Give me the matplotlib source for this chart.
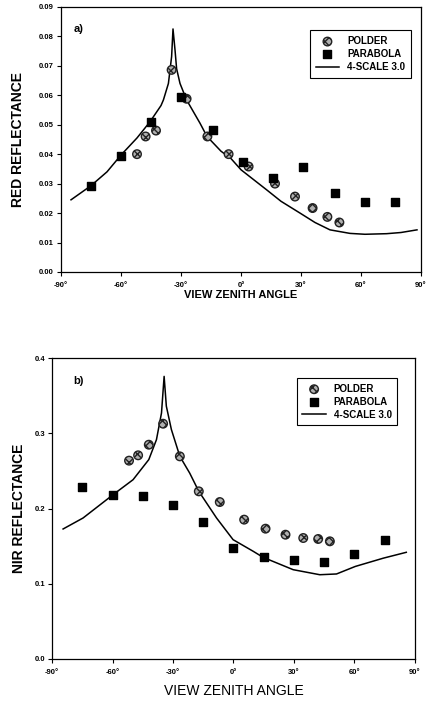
import matplotlib.pyplot as plt
import numpy as np

plt.rcParams['font.family'] = ['Liberation Sans', 'DejaVu Sans']

# a) red reflectance
red_polder_x = [-52, -47.7, -42.5, -34.7, -27.2, -16.8, -6.2, 3.8, 17, 27, 35.8, 43.2, 49.2]
red_polder_y = [0.040, 0.046, 0.048, 0.0686, 0.0588, 0.046, 0.040, 0.0358, 0.030, 0.0256, 0.0217, 0.0187, 0.0168]
red_para_x = [-75, -60, -45, -30, -14, 1, 16, 31, 47, 62, 77]
red_para_y = [0.0293, 0.0395, 0.051, 0.0593, 0.0482, 0.0372, 0.032, 0.0358, 0.0269, 0.0238, 0.0237]
red_model_x = [-85, -75, -67, -60, -52, -45.5, -40, -38.8, -36.3, -34.7, -34, -33, -32.2, -30.5,
               -27.2, -20.5, -17, -10, -5, 0, 12.8, 20, 29.5, 37, 44.5, 54.5, 62, 72.8, 80, 88]
red_model_y = [0.0245, 0.0293, 0.034, 0.0397, 0.0455, 0.051, 0.0565, 0.0584, 0.064, 0.0731, 0.0825,
               0.0754, 0.069, 0.064, 0.0584, 0.0505, 0.046, 0.041, 0.0385, 0.0347, 0.0279, 0.0240,
               0.020, 0.0168, 0.0143, 0.0131, 0.0128, 0.0130, 0.0134, 0.0143]

# b) NIR reflectance
nir_polder_x = [-51.8, -47.3, -42, -34.9, -26.6, -17.2, -6.8, 5.3, 15.9, 25.8, 34.6, 42, 47.8]
nir_polder_y = [0.2636, 0.2707, 0.2848, 0.3127, 0.2693, 0.2228, 0.2086, 0.1852, 0.1732, 0.1652, 0.1608, 0.1595, 0.1564]
nir_para_x = [-75, -60, -45, -30, -15, 0, 15, 30, 45, 60, 75]
nir_para_y = [0.2286, 0.2184, 0.2162, 0.2042, 0.1821, 0.1475, 0.1351, 0.132, 0.1285, 0.140, 0.1586]
nir_model_x = [-84.5, -74.6, -59.7, -49.8, -42, -38.2, -35.7, -34.4, -33.3, -30.8, -26.6, -21.7,
               -17.2, -8.4, -0.2, 9.8, 14.7, 29.6, 42.8, 51.1, 60.4, 74.3, 85.7]
nir_model_y = [0.1728, 0.1874, 0.2184, 0.2383, 0.265, 0.2915, 0.327, 0.3756, 0.336, 0.305, 0.2693,
               0.247, 0.2228, 0.1874, 0.1586, 0.1431, 0.1351, 0.1187, 0.112, 0.113, 0.123, 0.134, 0.1418]

xticks = [-90, -60, -30, 0, 30, 60, 90]
xticklabels = ['-90°', '-60°', '-30°', '0°', '30°', '60°', '90°']

fig = plt.figure(figsize=(4.27, 7.07), dpi=100)
ax1 = fig.add_axes([0.1429, 0.6153, 0.843, 0.375])
ax2 = fig.add_axes([0.1218, 0.0679, 0.850, 0.4257])


def draw_panel(ax, px, py, sx, sy, mx, my, ylim, yticks, yfmt, ylabel, ylab_pad,
               tag, tag_pos, leg_anchor, xlab):
    ax.plot(mx, my, color='black', lw=1.1, label='4-SCALE 3.0', zorder=2)
    ax.scatter(px, py, s=38, marker='o', facecolor='#b0b0b0', edgecolor='#222222',
               linewidths=1.0, hatch='xxxx', label='POLDER', zorder=3)
    ax.scatter(sx, sy, s=34, marker='s', color='black', label='PARABOLA', zorder=4)
    ax.set_xlim(-90, 90)
    ax.set_ylim(*ylim)
    ax.set_xticks(xticks)
    ax.set_xticklabels(xticklabels)
    ax.set_yticks(yticks)
    ax.set_yticklabels([yfmt % v for v in yticks])
    ax.tick_params(direction='out', length=3, width=0.8, labelsize=5.5, pad=2)
    ax.tick_params(axis='x', pad=4)
    for t in ax.get_xticklabels() + ax.get_yticklabels():
        t.set_fontweight('bold')
    for sp in ax.spines.values():
        sp.set_linewidth(0.9)
    ax.set_ylabel(ylabel, fontsize=10, fontweight='bold', labelpad=ylab_pad)
    ax.set_xlabel('VIEW ZENITH ANGLE', fontsize=xlab[0], fontweight=xlab[1], labelpad=xlab[2])
    ax.text(tag_pos[0], tag_pos[1], tag, transform=ax.transAxes, fontsize=8, fontweight='bold',
            va='top', ha='left')
    handles, labels = ax.get_legend_handles_labels()
    order = [labels.index('POLDER'), labels.index('PARABOLA'), labels.index('4-SCALE 3.0')]
    leg = ax.legend([handles[i] for i in order], [labels[i] for i in order],
                    loc='upper right', bbox_to_anchor=leg_anchor, fancybox=False,
                    edgecolor='black', framealpha=1, borderpad=0.6, handlelength=2.4,
                    labelspacing=0.3, prop={'weight': 'bold', 'size': 7})
    leg.get_frame().set_linewidth(0.8)


draw_panel(ax1, red_polder_x, red_polder_y, red_para_x, red_para_y, red_model_x, red_model_y,
           (0, 0.09), [0, 0.01, 0.02, 0.03, 0.04, 0.05, 0.06, 0.07, 0.08, 0.09], '%.2f',
           'RED REFLECTANCE', 10, 'a)', (0.035, 0.935), (0.985, 0.93), (8, 'bold', 1))
draw_panel(ax2, nir_polder_x, nir_polder_y, nir_para_x, nir_para_y, nir_model_x, nir_model_y,
           (0, 0.4), [0, 0.1, 0.2, 0.3, 0.4], '%.1f',
           'NIR REFLECTANCE', 6, 'b)', (0.058, 0.94), (0.965, 0.95), (10, 'normal', 6))

fig.savefig('out.png', dpi=100)
